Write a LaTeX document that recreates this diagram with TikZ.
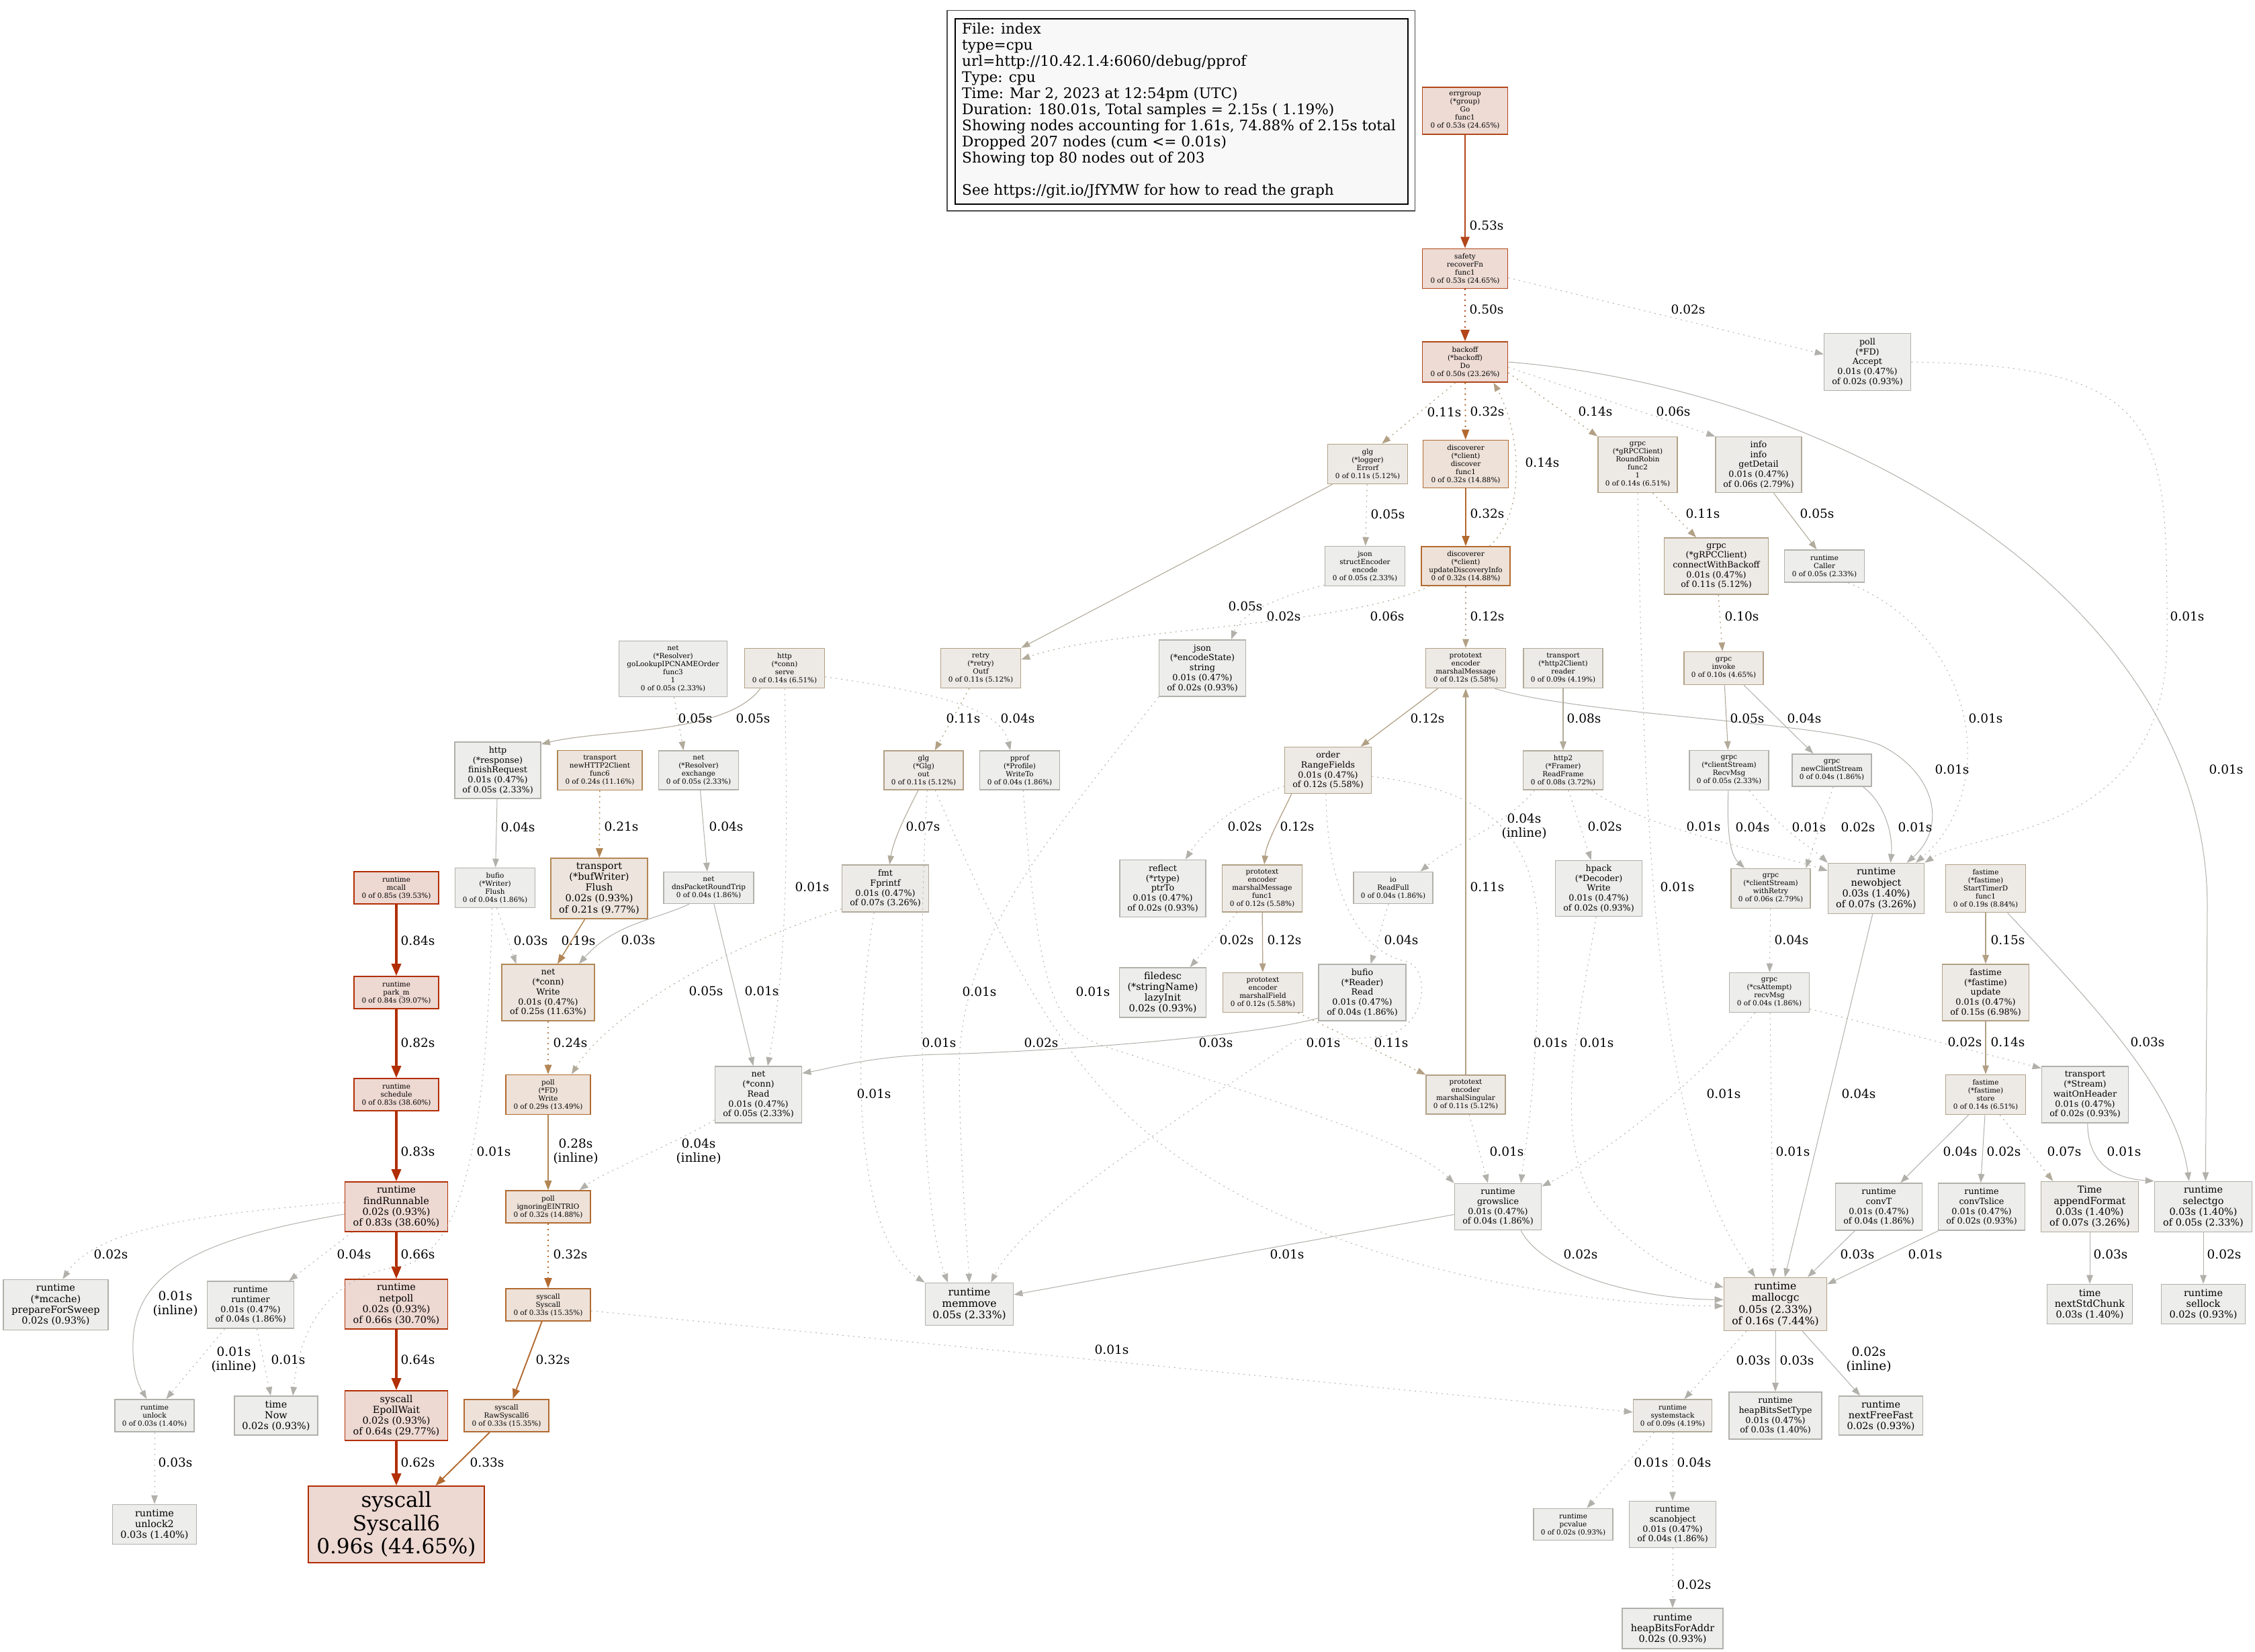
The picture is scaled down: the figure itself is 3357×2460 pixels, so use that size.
\documentclass[tikz,border=0pt]{standalone}
\usepackage{fontspec}
\setmainfont{DejaVu Serif}
\usetikzlibrary{arrows.meta}
\definecolor{hotfill}{HTML}{EDD8D2}
\definecolor{hotline}{HTML}{B22E04}
\definecolor{halffill}{HTML}{EDDBD4}
\definecolor{halfline}{HTML}{B2461A}
\definecolor{thirdfill}{HTML}{EDE1D8}
\definecolor{thirdline}{HTML}{B26A30}
\definecolor{quartfill}{HTML}{EDE5DD}
\definecolor{quartline}{HTML}{B28654}
\definecolor{tanfill}{HTML}{EDEAE6}
\definecolor{tanline}{HTML}{B2A085}
\definecolor{softfill}{HTML}{EDEBE8}
\definecolor{softline}{HTML}{B2AB9B}
\definecolor{grayfill}{HTML}{EDEDEC}
\definecolor{grayline}{HTML}{B2B0AA}
\definecolor{legendfill}{HTML}{F8F8F8}
\tikzset{
  fn/.style={draw, rectangle, inner sep=0pt, align=center, line width=1.6pt},
  wh/.style 2 args={minimum width=#1, minimum height=#2},
  t0/.style={font=\fontsize{10.4}{12}\selectfont},
  t1/.style={font=\fontsize{12.7}{14.7}\selectfont},
  t2/.style={font=\fontsize{14.4}{16.2}\selectfont},
  t5/.style={font=\fontsize{15.6}{17.4}\selectfont},
  t9/.style={font=\fontsize{31}{34.5}\selectfont},
  n1/.style={fn, fill=hotfill, draw=hotline},
  n2/.style={fn, fill=halffill, draw=halfline},
  n3/.style={fn, fill=thirdfill, draw=thirdline},
  n4/.style={fn, fill=quartfill, draw=quartline},
  n5/.style={fn, fill=tanfill, draw=tanline},
  n6/.style={fn, fill=softfill, draw=softline},
  n7/.style={fn, fill=grayfill, draw=grayline},
  ehot/.style={draw=hotline, line width=3.2pt, -{Triangle[length=18pt,width=14pt]}},
  ehalf/.style={draw=halfline, line width=2.6pt, -{Triangle[length=17pt,width=13pt]}},
  ethird/.style={draw=thirdline, line width=1.9pt, -{Triangle[length=15pt,width=11pt]}},
  equart/.style={draw=quartline, line width=1.5pt, -{Triangle[length=14pt,width=10.5pt]}},
  etan/.style={draw=tanline, line width=1.25pt, -{Triangle[length=13pt,width=9.5pt]}},
  esoft/.style={draw=softline, line width=1.1pt, -{Triangle[length=13pt,width=9.5pt]}},
  egray/.style={draw=grayline, line width=1pt, -{Triangle[length=13pt,width=9.5pt]}},
  resid/.style={dash pattern=on 2pt off 6pt},
  lbl/.style={font=\fontsize{18.5}{21}\selectfont, inner sep=0pt, align=center},
}
\begin{document}
\begin{tikzpicture}[x=1pt,y=-1pt]
\fill[white] (0,0) rectangle (3357,2460);
\useasboundingbox (0,0) rectangle (3357,2460);

% legend
\node[draw=black, line width=1.6pt, fill=legendfill, anchor=north west, wh={674}{276}] (legend) at (1421,27) {};
\draw[line width=1.3pt, draw=black!70] ([shift={(-11,-11.4)}]legend.north west) rectangle ([shift={(10,9.5)}]legend.south east);
\node[anchor=north west, inner sep=0pt, align=left, font=\fontsize{21.6}{24}\selectfont] (legendtxt) at (1432,34)
  {File: index\\type=cpu\\url=http://10.42.1.4:6060/debug/pprof\\Type: cpu\\Time: Mar 2, 2023 at 12:54pm (UTC)\\
   Duration: 180.01s, Total samples = 2.15s ( 1.19\%)\\Showing nodes accounting for 1.61s, 74.88\% of 2.15s total\\
   Dropped 207 nodes (cum <= 0.01s)\\Showing top 80 nodes out of 203\\[24pt]See https://git.io/JfYMW for how to read the graph};

% upper rows
\node[n2,t0,wh={127}{70}] (errgroup) at (2181,165) {errgroup\\(*group)\\Go\\func1\\0 of 0.53s (24.65\%)};
\node[n2,t0,wh={127}{59}] (safety) at (2181,400) {safety\\recoverFn\\func1\\0 of 0.53s (24.65\%)};
\node[n2,t0,wh={127}{60}] (backoff) at (2181,539) {backoff\\(*backoff)\\Do\\0 of 0.50s (23.26\%)};
\node[n7,t1,wh={129}{85}] (accept) at (2780,539) {poll\\(*FD)\\Accept\\0.01s (0.47\%)\\of 0.02s (0.93\%)};
\node[n5,t0,wh={119}{59}] (errorf) at (2036,691) {glg\\(*logger)\\Errorf\\0 of 0.11s (5.12\%)};
\node[n3,t0,wh={127}{71}] (discover) at (2182,691) {discoverer\\(*client)\\discover\\func1\\0 of 0.32s (14.88\%)};
\node[n5,t0,wh={118}{83}] (roundrobin) at (2438,692) {grpc\\(*gRPCClient)\\RoundRobin\\func2\\1\\0 of 0.14s (6.51\%)};
\node[n6,t1,wh={128}{83}] (getdetail) at (2618,692) {info\\info\\getDetail\\0.01s (0.47\%)\\of 0.06s (2.79\%)};
\node[n7,t0,wh={119}{59}] (structenc) at (2032,843) {json\\structEncoder\\encode\\0 of 0.05s (2.33\%)};
\node[n3,t0,wh={132}{58}] (updateinfo) at (2182,843) {discoverer\\(*client)\\updateDiscoveryInfo\\0 of 0.32s (14.88\%)};
\node[n5,t1,wh={155}{84}] (connbackoff) at (2555,843) {grpc\\(*gRPCClient)\\connectWithBackoff\\0.01s (0.47\%)\\of 0.11s (5.12\%)};
\node[n7,t0,wh={119}{48}] (caller) at (2716,843) {runtime\\Caller\\0 of 0.05s (2.33\%)};

\node[n7,t0,wh={161}{83}] (lookup) at (1002,996) {net\\(*Resolver)\\goLookupIPCNAMEOrder\\func3\\1\\0 of 0.05s (2.33\%)};
\node[n5,t0,wh={119}{59}] (serve) at (1168,995) {http\\(*conn)\\serve\\0 of 0.14s (6.51\%)};
\node[n5,t0,wh={119}{59}] (outf) at (1460,995) {retry\\(*retry)\\Outf\\0 of 0.11s (5.12\%)};
\node[n7,t1,wh={129}{84}] (encstring) at (1790,995) {json\\(*encodeState)\\string\\0.01s (0.47\%)\\of 0.02s (0.93\%)};
\node[n5,t0,wh={119}{59}] (marshalmsg) at (2182,995) {prototext\\encoder\\marshalMessage\\0 of 0.12s (5.58\%)};
\node[n6,t0,wh={118}{59}] (h2reader) at (2327,995) {transport\\(*http2Client)\\reader\\0 of 0.09s (4.19\%)};
\node[n5,t0,wh={118}{49}] (invoke) at (2566,995) {grpc\\invoke\\0 of 0.10s (4.65\%)};

\node[n7,t1,wh={128}{84}] (finishreq) at (741,1147) {http\\(*response)\\finishRequest\\0.01s (0.47\%)\\of 0.05s (2.33\%)};
\node[n4,t0,wh={126}{59}] (h2func6) at (893,1147) {transport\\newHTTP2Client\\func6\\0 of 0.24s (11.16\%)};
\node[n7,t0,wh={119}{58}] (exchange) at (1040,1147) {net\\(*Resolver)\\exchange\\0 of 0.05s (2.33\%)};
\node[n5,t0,wh={118}{58}] (glgout) at (1375,1147) {glg\\(*Glg)\\out\\0 of 0.11s (5.12\%)};
\node[n7,t0,wh={119}{58}] (writeto) at (1518,1147) {pprof\\(*Profile)\\WriteTo\\0 of 0.04s (1.86\%)};
\node[n5,t1,wh={129}{69}] (rangefields) at (1977,1147) {order\\RangeFields\\0.01s (0.47\%)\\of 0.12s (5.58\%)};
\node[n6,t0,wh={119}{58}] (readframe) at (2327,1147) {http2\\(*Framer)\\ReadFrame\\0 of 0.08s (3.72\%)};
\node[n7,t0,wh={118}{59}] (recvmsg) at (2574,1147) {grpc\\(*clientStream)\\RecvMsg\\0 of 0.05s (2.33\%)};
\node[n7,t0,wh={118}{48}] (newstream) at (2727,1147) {grpc\\newClientStream\\0 of 0.04s (1.86\%)};

% middle rows
\node[n1,t0,wh={126}{48}] (mcall) at (590,1322) {runtime\\mcall\\0 of 0.85s (39.53\%)};
\node[n7,t0,wh={119}{59}] (wflush) at (737,1322) {bufio\\(*Writer)\\Flush\\0 of 0.04s (1.86\%)};
\node[n4,t2,wh={144}{90}] (bwflush) at (892,1323) {transport\\(*bufWriter)\\Flush\\0.02s (0.93\%)\\of 0.21s (9.77\%)};
\node[n7,t0,wh={134}{47}] (dnsrt) at (1055,1322) {net\\dnsPacketRoundTrip\\0 of 0.04s (1.86\%)};
\node[n6,t1,wh={129}{70}] (fprintf) at (1318,1323) {fmt\\Fprintf\\0.01s (0.47\%)\\of 0.07s (3.26\%)};
\node[n7,t1,wh={128}{85}] (ptrto) at (1731,1323) {reflect\\(*rtype)\\ptrTo\\0.01s (0.47\%)\\of 0.02s (0.93\%)};
\node[n5,t0,wh={119}{70}] (msgfunc1) at (1879,1323) {prototext\\encoder\\marshalMessage\\func1\\0 of 0.12s (5.58\%)};
\node[n7,t0,wh={118}{47}] (readfull) at (2074,1322) {io\\ReadFull\\0 of 0.04s (1.86\%)};
\node[n7,t1,wh={129}{83}] (hpack) at (2380,1323) {hpack\\(*Decoder)\\Write\\0.01s (0.47\%)\\of 0.02s (0.93\%)};
\node[n6,t0,wh={118}{59}] (withretry) at (2636,1323) {grpc\\(*clientStream)\\withRetry\\0 of 0.06s (2.79\%)};
\node[n6,t2,wh={143}{75}] (newobject) at (2793,1323) {runtime\\newobject\\0.03s (1.40\%)\\of 0.07s (3.26\%)};
\node[n5,t0,wh={119}{71}] (timerfunc) at (2956,1323) {fastime\\(*fastime)\\StartTimerD\\func1\\0 of 0.19s (8.84\%)};

\node[n1,t0,wh={126}{48}] (parkm) at (590,1478) {runtime\\park\_m\\0 of 0.84s (39.07\%)};
\node[n4,t1,wh={138}{84}] (connwrite) at (816,1478) {net\\(*conn)\\Write\\0.01s (0.47\%)\\of 0.25s (11.63\%)};
\node[n7,t2,wh={129}{74}] (lazyinit) at (1731,1478) {filedesc\\(*stringName)\\lazyInit\\0.02s (0.93\%)};
\node[n5,t0,wh={119}{59}] (marshalfield) at (1880,1478) {prototext\\encoder\\marshalField\\0 of 0.12s (5.58\%)};
\node[n7,t1,wh={130}{84}] (bufread) at (2028,1478) {bufio\\(*Reader)\\Read\\0.01s (0.47\%)\\of 0.04s (1.86\%)};
\node[n7,t0,wh={119}{59}] (csrecv) at (2634,1478) {grpc\\(*csAttempt)\\recvMsg\\0 of 0.04s (1.86\%)};
\node[n5,t1,wh={129}{84}] (ftupdate) at (2956,1478) {fastime\\(*fastime)\\update\\0.01s (0.47\%)\\of 0.15s (6.98\%)};

\node[n1,t0,wh={126}{48}] (schedule) at (590,1630) {runtime\\schedule\\0 of 0.83s (38.60\%)};
\node[n3,t0,wh={126}{59}] (fdwrite) at (816,1630) {poll\\(*FD)\\Write\\0 of 0.29s (13.49\%)};
\node[n7,t1,wh={129}{84}] (connread) at (1129,1630) {net\\(*conn)\\Read\\0.01s (0.47\%)\\of 0.05s (2.33\%)};
\node[n5,t0,wh={118}{58}] (singular) at (2182,1630) {prototext\\encoder\\marshalSingular\\0 of 0.11s (5.12\%)};
\node[n5,t0,wh={119}{59}] (ftstore) at (2956,1630) {fastime\\(*fastime)\\store\\0 of 0.14s (6.51\%)};
\node[n7,t1,wh={129}{84}] (waithdr) at (3104,1630) {transport\\(*Stream)\\waitOnHeader\\0.01s (0.47\%)\\of 0.02s (0.93\%)};

% lower rows
\node[n1,t2,wh={153}{74}] (findrun) at (590,1797) {runtime\\findRunnable\\0.02s (0.93\%)\\of 0.83s (38.60\%)};
\node[n3,t0,wh={126}{48}] (eintr) at (816,1797) {poll\\ignoringEINTRIO\\0 of 0.32s (14.88\%)};
\node[n7,t1,wh={129}{69}] (growslice) at (2230,1797) {runtime\\growslice\\0.01s (0.47\%)\\of 0.04s (1.86\%)};
\node[n7,t1,wh={129}{70}] (convt) at (2797,1797) {runtime\\convT\\0.01s (0.47\%)\\of 0.04s (1.86\%)};
\node[n7,t1,wh={129}{70}] (convtslice) at (2950,1797) {runtime\\convTslice\\0.01s (0.47\%)\\of 0.02s (0.93\%)};
\node[n6,t2,wh={145}{75}] (appendfmt) at (3111,1797) {Time\\appendFormat\\0.03s (1.40\%)\\of 0.07s (3.26\%)};
\node[n7,t2,wh={145}{75}] (selectgo) at (3280,1797) {runtime\\selectgo\\0.03s (1.40\%)\\of 0.05s (2.33\%)};

\node[n7,t2,wh={156}{75}] (mcache) at (83,1943) {runtime\\(*mcache)\\prepareForSweep\\0.02s (0.93\%)};
\node[n7,t1,wh={129}{70}] (runtimer) at (373,1943) {runtime\\runtimer\\0.01s (0.47\%)\\of 0.04s (1.86\%)};
\node[n1,t2,wh={153}{74}] (netpoll) at (590,1942) {runtime\\netpoll\\0.02s (0.93\%)\\of 0.66s (30.70\%)};
\node[n3,t0,wh={126}{48}] (syscallfn) at (816,1943) {syscall\\Syscall\\0 of 0.33s (15.35\%)};
\node[n7,t5,wh={131}{63}] (memmove) at (1443,1942) {runtime\\memmove\\0.05s (2.33\%)};
\node[n5,t5,wh={153}{79}] (mallocgc) at (2643,1942) {runtime\\mallocgc\\0.05s (2.33\%)\\of 0.16s (7.44\%)};
\node[n7,t2,wh={127}{59}] (nextstd) at (3111,1942) {time\\nextStdChunk\\0.03s (1.40\%)};
\node[n7,t2,wh={125}{59}] (sellock) at (3280,1942) {runtime\\sellock\\0.02s (0.93\%)};

\node[n7,t0,wh={118}{48}] (unlock) at (230,2108) {runtime\\unlock\\0 of 0.03s (1.40\%)};
\node[n7,t2,wh={124}{58}] (timenow) at (411,2108) {time\\Now\\0.02s (0.93\%)};
\node[n1,t2,wh={153}{74}] (epollwait) at (590,2108) {syscall\\EpollWait\\0.02s (0.93\%)\\of 0.64s (29.77\%)};
\node[n3,t0,wh={126}{48}] (rawsyscall) at (754,2108) {syscall\\RawSyscall6\\0 of 0.33s (15.35\%)};
\node[n6,t0,wh={117}{48}] (systemstack) at (2490,2108) {runtime\\systemstack\\0 of 0.09s (4.19\%)};
\node[n7,t1,wh={138}{70}] (heapset) at (2643,2108) {runtime\\heapBitsSetType\\0.01s (0.47\%)\\of 0.03s (1.40\%)};
\node[n7,t2,wh={125}{58}] (nextfree) at (2800,2108) {runtime\\nextFreeFast\\0.02s (0.93\%)};

\node[n7,t2,wh={125}{59}] (unlock2) at (230,2270) {runtime\\unlock2\\0.03s (1.40\%)};
\node[n1,t9,wh={262}{114}] (syscall6) at (590,2270) {syscall\\Syscall6\\0.96s (44.65\%)};
\node[n7,t0,wh={118}{47}] (pcvalue) at (2342,2270) {runtime\\pcvalue\\0 of 0.02s (0.93\%)};
\node[n7,t1,wh={129}{69}] (scanobject) at (2490,2270) {runtime\\scanobject\\0.01s (0.47\%)\\of 0.04s (1.86\%)};
\node[n7,t2,wh={150}{60}] (heapaddr) at (2490,2425) {runtime\\heapBitsForAddr\\0.02s (0.93\%)};

% backoff and discovery
\draw[ehalf] (errgroup) -- (safety) node[lbl] at (2213,336) {0.53s};
\draw[ehalf,resid] (safety) -- (backoff) node[lbl] at (2213,461) {0.50s};
\draw[egray,resid] (safety.-12) -- (accept.170) node[lbl] at (2513,461) {0.02s};
\draw[etan,resid] (backoff.-115) -- (errorf.55) node[lbl] at (2150,614) {0.11s};
\draw[ethird,resid] (backoff) -- (discover) node[lbl] at (2214,613) {0.32s};
\draw[etan,resid] (updateinfo.40) .. controls (2275,760) and (2262,640) .. (backoff.-36) node[lbl] at (2296,689) {0.14s};
\draw[etan,resid] (backoff.-14) -- (roundrobin.north west) node[lbl] at (2375,613) {0.14s};
\draw[egray,resid] (backoff.-7) -- (getdetail.north west) node[lbl] at (2491,613) {0.06s};
\draw[egray] (backoff.east) .. controls (2750,580) and (3286,900) .. (3286,1350) -- (selectgo.85) node[lbl] at (3314,1146) {0.01s};
\draw[ethird] (discover) -- (updateinfo) node[lbl] at (2214,765) {0.32s};
\draw[etan,resid] (roundrobin.-62) -- (connbackoff.125) node[lbl] at (2535,765) {0.11s};
\draw[egray,resid] (roundrobin.south) .. controls (2448,1300) and (2470,1700) .. ([xshift=-30pt]mallocgc.north) node[lbl] at (2497,1321) {0.01s};
\draw[egray,resid] (accept.east) .. controls (3228,545) and (3226,640) .. (3226,950) .. controls (3226,1250) and (2940,1235) .. (newobject.north east) node[lbl] at (3256,918) {0.01s};
\draw[esoft] (getdetail.-62) -- (caller.115) node[lbl] at (2705,765) {0.05s};
\draw[egray,resid] (caller.-35) .. controls (2950,950) and (2975,1180) .. (newobject.33) node[lbl] at (2956,1070) {0.01s};
\draw[etan,resid] (connbackoff) -- (invoke) node[lbl] at (2593,918) {0.10s};
\draw[etan,resid] (updateinfo) -- (marshalmsg) node[lbl] at (2214,918) {0.12s};
\draw[esoft,resid] (updateinfo.-151) .. controls (2000,935) and (1650,935) .. (outf.12) node[lbl] at (2065,918) {0.06s};
\draw[egray,resid] (structenc.-155) .. controls (1880,895) and (1845,920) .. (encstring.45) node[lbl] at (1911,918) {0.02s};
\draw[esoft,resid] (errorf) -- (structenc) node[lbl] at (2066,766) {0.05s};
\draw[esoft] (errorf.-150) -- (outf.north east) node[lbl] at (1854,903) {0.05s};

% http, resolver, glg
\draw[etan,resid] (outf) -- (glgout) node[lbl] at (1434,1070) {0.11s};
\draw[esoft] (serve.-140) .. controls (1080,1095) and (900,1085) .. (finishreq.31) node[lbl] at (1121,1070) {0.05s};
\draw[egray,resid] (serve.south) .. controls (1175,1300) and (1168,1450) .. (connread.72) node[lbl] at (1209,1321) {0.01s};
\draw[egray,resid] (serve.-12) .. controls (1420,1035) and (1490,1060) .. (writeto.115) node[lbl] at (1515,1070) {0.04s};
\draw[esoft,resid] (lookup.-88) -- (exchange.127) node[lbl] at (1035,1070) {0.05s};
\draw[egray] (exchange) -- (dnsrt) node[lbl] at (1081,1231) {0.04s};
\draw[egray] (finishreq) -- (wflush) node[lbl] at (771,1232) {0.04s};
\draw[equart,resid] (h2func6) -- (bwflush) node[lbl] at (925,1231) {0.21s};
\draw[esoft] (glgout.-105) .. controls (1350,1210) and (1330,1250) .. (fprintf.80) node[lbl] at (1374,1231) {0.07s};
\draw[egray,resid] (glgout.-80) .. controls (1365,1450) and (1370,1800) .. ([xshift=-32pt]memmove.north) node[lbl] at (1398,1553) {0.01s};
\draw[egray,resid] (glgout.-60) .. controls (1480,1380) and (1560,1560) .. (1700,1680) .. controls (1950,1900) and (2400,1945) .. (mallocgc.-178) node[lbl] at (1550,1553) {0.02s};
\draw[egray,resid] (writeto.-80) .. controls (1545,1480) and (1570,1535) .. (1650,1560) .. controls (1900,1640) and (2100,1700) .. (growslice.north west) node[lbl] at (1627,1477) {0.01s};
\draw[egray,resid] (encstring.south west) .. controls (1560,1250) and (1425,1400) .. (1428,1600) .. controls (1430,1750) and (1440,1850) .. (memmove.north) node[lbl] at (1458,1477) {0.01s};
\draw[esoft,resid] (fprintf.-155) .. controls (1050,1420) and (900,1520) .. (fdwrite.41) node[lbl] at (1051,1476) {0.05s};
\draw[egray,resid] (fprintf.-115) .. controls (1262,1600) and (1280,1850) .. (memmove.north west) node[lbl] at (1301,1629) {0.01s};
\draw[equart] (bwflush.-115) -- (connwrite.72) node[lbl] at (861,1401) {0.19s};
\draw[egray,resid] (wflush.-85) -- (connwrite.138) node[lbl] at (790,1401) {0.03s};
\draw[egray] (dnsrt.-140) .. controls (975,1370) and (915,1375) .. (connwrite.43) node[lbl] at (950,1400) {0.03s};
\draw[egray] (dnsrt.-72) -- (connread.100) node[lbl] at (1134,1476) {0.01s};

% write path and scheduler
\draw[equart,resid] (connwrite) -- (fdwrite) node[lbl] at (849,1553) {0.24s};
\draw[equart] (fdwrite) -- (eintr) node[lbl] at (857,1715) {0.28s\\(inline)};
\draw[egray,resid] (connread.-150) .. controls (1000,1705) and (900,1745) .. (eintr.28) node[lbl] at (1040,1715) {0.04s\\(inline)};
\draw[ethird,resid] (eintr) -- (syscallfn) node[lbl] at (849,1868) {0.32s};
\draw[ethird] (syscallfn) -- (rawsyscall) node[lbl] at (823,2025) {0.32s};
\draw[ethird] (rawsyscall) -- (syscall6) node[lbl] at (725,2178) {0.33s};
\draw[egray,resid] (syscallfn.-8) -- (systemstack.175) node[lbl] at (1655,2010) {0.01s};
\draw[ehot] (mcall) -- (parkm) node[lbl] at (622,1401) {0.84s};
\draw[ehot] (parkm) -- (schedule) node[lbl] at (622,1553) {0.82s};
\draw[ehot] (schedule) -- (findrun) node[lbl] at (622,1715) {0.83s};
\draw[ehot] (findrun) -- (netpoll) node[lbl] at (622,1868) {0.66s};
\draw[ehot] (netpoll) -- (epollwait) node[lbl] at (622,2025) {0.64s};
\draw[ehot] (epollwait) -- (syscall6) node[lbl] at (622,2178) {0.62s};
\draw[egray,resid] (findrun.175) .. controls (350,1805) and (150,1820) .. (mcache.75) node[lbl] at (165,1868) {0.02s};
\draw[egray] (findrun.-172) .. controls (330,1840) and (200,1880) .. (198,2000) .. controls (197,2040) and (205,2060) .. (unlock.115) node[lbl] at (261,1942) {0.01s\\(inline)};
\draw[egray,resid] (findrun.-150) -- (runtimer.32) node[lbl] at (527,1868) {0.04s};
\draw[egray,resid] (runtimer.-137) -- (unlock.55) node[lbl] at (348,2025) {0.01s\\(inline)};
\draw[egray,resid] (runtimer.-75) -- (timenow.105) node[lbl] at (429,2025) {0.01s};
\draw[egray,resid] (wflush.-98) .. controls (725,1650) and (700,1860) .. (600,1885) .. controls (480,1900) and (445,1990) .. (timenow.50) node[lbl] at (735,1715) {0.01s};
\draw[egray,resid] (unlock) -- (unlock2) node[lbl] at (261,2178) {0.03s};

% prototext and transport
\draw[etan] (marshalmsg.-144) -- (rangefields.36) node[lbl] at (2125,1070) {0.12s};
\draw[egray] (marshalmsg.-35) .. controls (2350,1065) and (2720,1075) .. (2800,1110) .. controls (2880,1150) and (2900,1230) .. (newobject.40) node[lbl] at (2906,1146) {0.01s};
\draw[etan] (singular) -- (marshalmsg) node[lbl] at (2214,1321) {0.11s};
\draw[esoft] (h2reader) -- (readframe) node[lbl] at (2358,1070) {0.08s};
\draw[egray,resid] (readframe.-145) .. controls (2240,1230) and (2160,1260) .. (readfull.31) node[lbl] at (2269,1231) {0.04s\\(inline)};
\draw[egray,resid] (readframe.-75) -- (hpack.105) node[lbl] at (2389,1231) {0.02s};
\draw[egray,resid] (readframe.-35) .. controls (2450,1235) and (2620,1265) .. (newobject.160) node[lbl] at (2536,1231) {0.01s};
\draw[egray,resid] (readfull) -- (bufread) node[lbl] at (2086,1400) {0.04s};
\draw[egray] (bufread.-150) .. controls (1880,1540) and (1600,1565) .. (1400,1570) .. controls (1300,1572) and (1240,1590) .. (connread.26) node[lbl] at (1810,1553) {0.03s};
\draw[egray,resid] (rangefields.-160) .. controls (1840,1195) and (1790,1240) .. (ptrto.52) node[lbl] at (1853,1231) {0.02s};
\draw[etan] (rangefields.-147) .. controls (1905,1220) and (1885,1255) .. (msgfunc1.85) node[lbl] at (1931,1231) {0.12s};
\draw[egray,resid] (rangefields.-95) .. controls (1976,1340) and (2030,1420) .. (2095,1432) .. controls (2130,1445) and (2125,1530) .. (2060,1543) .. controls (1990,1550) and (1960,1545) .. (1930,1548) .. controls (1700,1700) and (1520,1820) .. (memmove.45) node[lbl] at (1970,1553) {0.01s};
\draw[egray,resid] (rangefields.-8) .. controls (2200,1175) and (2290,1230) .. (2290,1400) .. controls (2290,1600) and (2272,1700) .. (growslice.46) node[lbl] at (2308,1553) {0.01s};
\draw[egray,resid] (msgfunc1.-136) -- (lazyinit.43) node[lbl] at (1841,1400) {0.02s};
\draw[etan] (msgfunc1) -- (marshalfield) node[lbl] at (1912,1400) {0.12s};
\draw[etan,resid] (marshalfield.-30) -- (singular.north west) node[lbl] at (2071,1553) {0.11s};
\draw[egray,resid] (singular.-80) -- (growslice.113) node[lbl] at (2243,1715) {0.01s};
\draw[egray,resid] (hpack.-95) .. controls (2345,1550) and (2310,1700) .. (2380,1800) .. controls (2450,1880) and (2520,1905) .. (mallocgc.162) node[lbl] at (2377,1553) {0.01s};

% grpc stream
\draw[esoft] (invoke) -- (recvmsg) node[lbl] at (2601,1070) {0.05s};
\draw[egray] (invoke.-40) -- (newstream.138) node[lbl] at (2686,1070) {0.04s};
\draw[egray] (recvmsg.-92) .. controls (2570,1250) and (2578,1275) .. (withretry.142) node[lbl] at (2609,1232) {0.04s};
\draw[egray,resid] (recvmsg.-45) .. controls (2650,1235) and (2700,1265) .. (newobject.north west) node[lbl] at (2693,1232) {0.01s};
\draw[egray,resid] (newstream.-85) -- (withretry.30) node[lbl] at (2766,1232) {0.02s};
\draw[egray] (newstream.-28) .. controls (2810,1200) and (2818,1250) .. (newobject.61) node[lbl] at (2851,1232) {0.01s};
\draw[egray,resid] (withretry) -- (csrecv) node[lbl] at (2667,1400) {0.04s};
\draw[egray,resid] (csrecv.-125) .. controls (2520,1620) and (2370,1730) .. (growslice.25) node[lbl] at (2566,1629) {0.01s};
\draw[egray,resid] (csrecv.-88) -- ([xshift=-3pt]mallocgc.north) node[lbl] at (2669,1715) {0.01s};
\draw[egray,resid] (csrecv.-22) -- (waithdr.149) node[lbl] at (2925,1552) {0.02s};
\draw[egray] (newobject.-98) -- ([xshift=14pt]mallocgc.north) node[lbl] at (2767,1629) {0.04s};

% fastime and allocation
\draw[etan] (timerfunc) -- (ftupdate) node[lbl] at (2989,1400) {0.15s};
\draw[egray] (timerfunc.-48) .. controls (3100,1480) and (3240,1620) .. (selectgo.119) node[lbl] at (3197,1552) {0.03s};
\draw[etan] (ftupdate) -- (ftstore) node[lbl] at (2989,1552) {0.14s};
\draw[egray] (ftstore.-130) -- (convt.48) node[lbl] at (2918,1715) {0.04s};
\draw[egray] (ftstore.-92) -- (convtslice.92) node[lbl] at (2983,1715) {0.02s};
\draw[esoft,resid] (ftstore.-55) -- (appendfmt.145) node[lbl] at (3073,1715) {0.07s};
\draw[egray] (waithdr.-85) .. controls (3108,1735) and (3150,1755) .. (selectgo.north west) node[lbl] at (3162,1715) {0.01s};
\draw[egray] (appendfmt) -- (nextstd) node[lbl] at (3142,1868) {0.03s};
\draw[egray] (selectgo) -- (sellock) node[lbl] at (3311,1868) {0.02s};
\draw[egray] (convt.-135) -- (mallocgc.40) node[lbl] at (2765,1868) {0.03s};
\draw[egray] (convtslice.-151) -- (mallocgc.21) node[lbl] at (2866,1868) {0.01s};
\draw[egray] (growslice.-46) .. controls (2300,1900) and (2450,1935) .. (mallocgc.175) node[lbl] at (2353,1868) {0.02s};
\draw[egray] (growslice.-170) -- (memmove.12) node[lbl] at (1916,1868) {0.01s};
\draw[egray,resid] (mallocgc.-137) -- (systemstack.55) node[lbl] at (2610,2026) {0.03s};
\draw[egray] (mallocgc) -- (heapset) node[lbl] at (2675,2026) {0.03s};
\draw[egray] (mallocgc.-45) -- (nextfree.136) node[lbl] at (2782,2025) {0.02s\\(inline)};
\draw[egray,resid] (systemstack.-138) -- (pcvalue.50) node[lbl] at (2458,2178) {0.01s};
\draw[egray,resid] (systemstack) -- (scanobject) node[lbl] at (2522,2178) {0.04s};
\draw[egray,resid] (scanobject) -- (heapaddr) node[lbl] at (2522,2360) {0.02s};
\end{tikzpicture}
\end{document}
